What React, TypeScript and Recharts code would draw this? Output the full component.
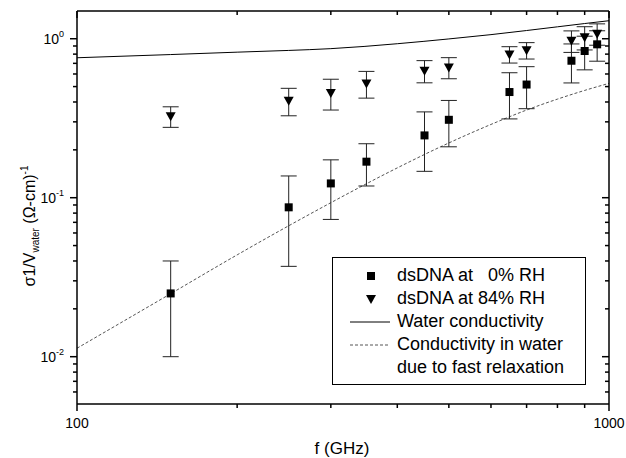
import React from 'react';
import { ComposedChart, Line, Scatter, XAxis, YAxis, ErrorBar } from 'recharts';

// Model curves
const curveFreq = [100, 150, 200, 250, 300, 400, 500, 600, 700, 800, 900, 1000];
const waterCond = [0.759, 0.795, 0.823, 0.844, 0.866, 0.93, 0.997, 1.061, 1.126, 1.188, 1.246, 1.298];
const fastRelax = [0.0113, 0.0249, 0.0437, 0.0666, 0.093, 0.154, 0.221, 0.289, 0.356, 0.417, 0.473, 0.524];

// Measured points
const pointFreq = [150, 250, 300, 350, 450, 500, 650, 700, 850, 900, 950];
const dry0 = [0.025, 0.087, 0.123, 0.1685, 0.2465, 0.309, 0.462, 0.515, 0.727, 0.837, 0.922];
const dry0Err = [0.015, 0.05, 0.05, 0.05, 0.1, 0.1, 0.149, 0.152, 0.2, 0.2, 0.2];
const wet84 = [0.325, 0.4075, 0.456, 0.523, 0.628, 0.66, 0.797, 0.845, 0.97, 1.02, 1.075];
const wet84Err = [0.048, 0.08, 0.1, 0.1, 0.1, 0.1, 0.094, 0.1, 0.15, 0.17, 0.165];

// Axes
const xTicks = [100, 200, 300, 400, 500, 600, 700, 800, 900, 1000];
const xLabels: Record<number, string> = { 100: '100', 1000: '1000' };
const yTicks = [0.006, 0.007, 0.008, 0.009, 0.01, 0.02, 0.03, 0.04, 0.05, 0.06, 0.07, 0.08, 0.09,
  0.1, 0.2, 0.3, 0.4, 0.5, 0.6, 0.7, 0.8, 0.9, 1];
const yMajor = [0.01, 0.1, 1];
const yExp = ['-2', '-1', '0'];
const xDomain = [100, 1000];
const yDomain = [0.00504, 1.494];

const legendItems = ['dsDNA at   0% RH', 'dsDNA at 84% RH', 'Water conductivity', 'Conductivity in water', 'due to fast relaxation'];

const waterData = curveFreq.map((f, i) => ({ f, y: waterCond[i] }));
const fastData = curveFreq.map((f, i) => ({ f, y: fastRelax[i] }));
const dryData = pointFreq.map((f, i) => ({ f, y: dry0[i], err: dry0Err[i] }));
const wetData = pointFreq.map((f, i) => ({ f, y: wet84[i], err: wet84Err[i] }));

const FONT = '"Liberation Sans", Arial, sans-serif';
const MAJ = 7;
const MIN = 4;

const isMajorY = (v: number) => yMajor.some((m) => Math.abs(v - m) / m < 1e-6);
const isMajorX = (v: number) => v === 100 || v === 1000;

const BottomTick = (p: any) => {
  const v = p.payload.value;
  const len = isMajorX(v) ? MAJ : MIN;
  return (
    <g>
      <line x1={p.x} x2={p.x} y1={p.y} y2={p.y + len} stroke="#000" strokeWidth={1.5} />
      {xLabels[v] ? (
        <text x={p.x} y={p.y + 24} textAnchor="middle" fontSize={14} fontFamily={FONT} fill="#000">{xLabels[v]}</text>
      ) : null}
    </g>
  );
};

const TopTick = (p: any) => {
  const v = p.payload.value;
  const len = isMajorX(v) ? MAJ : MIN;
  return <line x1={p.x} x2={p.x} y1={p.y} y2={p.y + len} stroke="#000" strokeWidth={1.5} />;
};

const LeftTick = (p: any) => {
  const v = p.payload.value;
  const major = isMajorY(v);
  const idx = yMajor.findIndex((m) => Math.abs(v - m) / m < 1e-6);
  return (
    <g>
      <line x1={p.x - (major ? MAJ : MIN)} x2={p.x} y1={p.y} y2={p.y} stroke="#000" strokeWidth={1.5} />
      {major ? (
        <text x={p.x - 13} y={p.y + 5} textAnchor="end" fontSize={14} fontFamily={FONT} fill="#000">
          <tspan>10</tspan>
          <tspan dy={-7} fontSize={9}>{yExp[idx]}</tspan>
        </text>
      ) : null}
    </g>
  );
};

const RightTick = (p: any) => {
  const v = p.payload.value;
  const len = isMajorY(v) ? MAJ : MIN;
  return <line x1={p.x - len} x2={p.x} y1={p.y} y2={p.y} stroke="#000" strokeWidth={1.5} />;
};

const SquareShape = (p: any) => {
  if (p.cx == null || p.cy == null) return null;
  return <rect x={p.cx - 4} y={p.cy - 4} width={8} height={8} fill="#000" />;
};

const TriangleShape = (p: any) => {
  if (p.cx == null || p.cy == null) return null;
  const { cx, cy } = p;
  return <polygon points={`${cx - 5},${cy - 4} ${cx + 5},${cy - 4} ${cx},${cy + 5}`} fill="#000" />;
};

const LegendBox = () => (
  <div
    style={{
      position: 'absolute', left: 332, top: 257, width: 252, height: 126,
      border: '1px solid #000', background: '#fff', fontFamily: FONT, fontSize: 18, color: '#000',
    }}
  >
    {legendItems.map((label, i) => (
      <div key={i} style={{ position: 'absolute', left: 0, top: 6 + i * 23, height: 23, width: 250 }}>
        <svg width={60} height={23} style={{ position: 'absolute', left: 0, top: 0 }}>
          {i === 0 ? <rect x={34} y={8} width={8} height={8} fill="#000" /> : null}
          {i === 1 ? <polygon points="33,8 43,8 38,17" fill="#000" /> : null}
          {i === 2 ? <line x1={17} x2={57} y1={12} y2={12} stroke="#000" strokeWidth={1} /> : null}
          {i === 3 ? <line x1={17} x2={57} y1={12} y2={12} stroke="#555" strokeWidth={1} strokeDasharray="3 2" /> : null}
        </svg>
        <span style={{ position: 'absolute', left: 64, top: 0, lineHeight: '23px', whiteSpace: 'pre' }}>{label}</span>
      </div>
    ))}
  </div>
);

export default function App() {
  return (
    <div style={{ position: 'absolute', left: 0, top: 0, width: 626, height: 458, background: '#fff' }}>
      <ComposedChart width={626} height={458} margin={{ top: 0, right: 0, bottom: 0, left: 0 }}>
        <XAxis xAxisId="b" dataKey="f" type="number" scale="log" domain={xDomain} allowDataOverflow
          ticks={xTicks} interval={0} orientation="bottom" height={54} tickSize={0} tickMargin={0}
          tickLine={false} axisLine={{ stroke: '#000', strokeWidth: 1.5 }} tick={<BottomTick />} />
        <XAxis xAxisId="t" dataKey="f" type="number" scale="log" domain={xDomain} allowDataOverflow
          ticks={xTicks} interval={0} orientation="top" height={11} tickSize={0} tickMargin={0}
          tickLine={false} axisLine={{ stroke: '#000', strokeWidth: 1.5 }} tick={<TopTick />} />
        <YAxis yAxisId="l" type="number" scale="log" domain={yDomain} allowDataOverflow
          ticks={yTicks} interval={0} orientation="left" width={77} tickSize={0} tickMargin={0}
          tickLine={false} axisLine={{ stroke: '#000', strokeWidth: 1.5 }} tick={<LeftTick />} />
        <YAxis yAxisId="r" type="number" scale="log" domain={yDomain} allowDataOverflow
          ticks={yTicks} interval={0} orientation="right" width={17} tickSize={0} tickMargin={0}
          tickLine={false} axisLine={{ stroke: '#000', strokeWidth: 1.5 }} tick={<RightTick />} />
        <Line xAxisId="b" yAxisId="l" data={waterData} dataKey="y" type="monotone" stroke="#000"
          strokeWidth={1} dot={false} activeDot={false} isAnimationActive={false} />
        <Line xAxisId="b" yAxisId="l" data={fastData} dataKey="y" type="monotone" stroke="#555"
          strokeWidth={1} strokeDasharray="3 2" dot={false} activeDot={false} isAnimationActive={false} />
        <Scatter xAxisId="b" yAxisId="l" data={dryData} dataKey="y" shape={<SquareShape />} isAnimationActive={false}>
          <ErrorBar dataKey="err" direction="y" width={8} stroke="#222" strokeWidth={1} />
        </Scatter>
        <Scatter xAxisId="b" yAxisId="l" data={wetData} dataKey="y" shape={<TriangleShape />} isAnimationActive={false}>
          <ErrorBar dataKey="err" direction="y" width={8} stroke="#222" strokeWidth={1} />
        </Scatter>
        <text x={342} y={454} textAnchor="middle" fontSize={17} fontFamily={FONT} fill="#000">f (GHz)</text>
        <text x={35} y={226} transform="rotate(-90, 35, 226)" textAnchor="middle" fontSize={16} fontFamily={FONT} fill="#000">
          <tspan>σ1/V</tspan>
          <tspan dy={4} fontSize={10}>water</tspan>
          <tspan dy={-4}> (Ω-cm)</tspan>
          <tspan dy={-7} fontSize={10}>-1</tspan>
        </text>
      </ComposedChart>
      <LegendBox />
    </div>
  );
}
